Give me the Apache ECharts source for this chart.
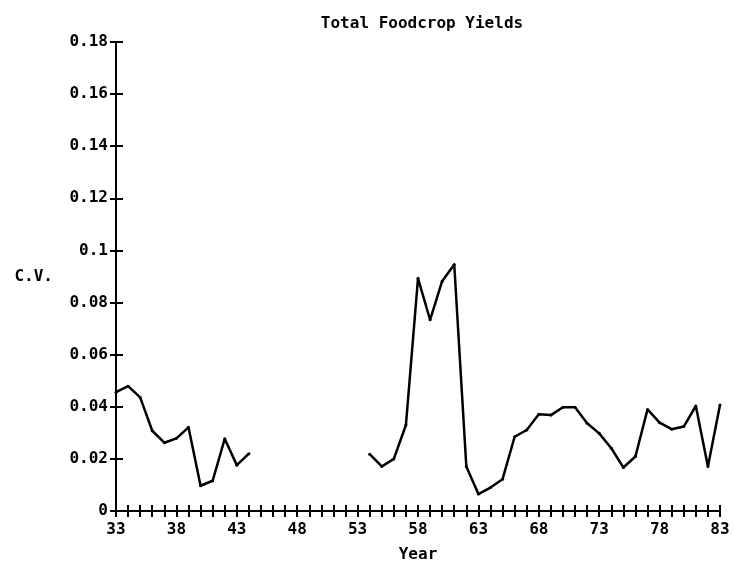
<!DOCTYPE html>
<html>
<head>
<meta charset="utf-8">
<script src="https://cdn.jsdelivr.net/npm/echarts@6/dist/echarts.min.js"></script>
<style>html,body{margin:0;padding:0;background:#fff}#c{width:734px;height:566px}</style>
</head>
<body>
<div id="c"></div>
<script>
var titleText = 'Total Foodcrop Yields';
var yName = 'C.V.';
var xName = 'Year';
var years = [];
for (var y = 33; y <= 83; y++) years.push(y);
var cv = [
  0.0456, 0.0479, 0.0436, 0.0308, 0.0262, 0.0279, 0.0321, 0.0097, 0.0116, 0.0277,
  0.0176, 0.0220, null, null, null, null, null, null, null, null,
  null, 0.0218, 0.0171, 0.0200, 0.0330, 0.0893, 0.0734, 0.0882, 0.0946, 0.0171,
  0.0065, 0.0090, 0.0122, 0.0285, 0.0311, 0.0371, 0.0368, 0.0398, 0.0398, 0.0337,
  0.0298, 0.0241, 0.0167, 0.0209, 0.0390, 0.0339, 0.0314, 0.0324, 0.0403, 0.0171,
  0.0407
];
var xMin = 33, xMax = 83, xStep = 1, xLabelEvery = 5;
var yMin = 0, yMax = 0.18, yStep = 0.02;

var font = '"DejaVu Sans Mono", monospace';
var fs = 16;
var data = years.map(function (yr, i) { return [yr, cv[i]]; });

var chart = echarts.init(document.getElementById('c'), null, {renderer: 'canvas'});
var common = {
  axisLine: {show: true, lineStyle: {color: '#000', width: 2}},
  splitLine: {show: false}
};
chart.setOption({
  animation: false,
  backgroundColor: '#fff',
  title: {
    text: titleText, left: 417, top: 11, textAlign: 'center',
    textStyle: {fontFamily: font, fontWeight: 'bold', fontSize: fs, color: '#000'}
  },
  grid: {left: 116, right: 14, top: 42, bottom: 55, containLabel: false, outerBoundsMode: 'none'},
  xAxis: [
    Object.assign({
      type: 'value', min: xMin, max: xMax, interval: xStep, position: 'bottom', offset: 0,
      name: xName, nameLocation: 'middle', nameGap: 36,
      nameTextStyle: {fontFamily: font, fontWeight: 'bold', fontSize: fs, color: '#000'},
      axisTick: {show: true, inside: false, length: 6, lineStyle: {color: '#000', width: 2}},
      axisLabel: {
        fontFamily: font, fontWeight: 'bold', fontSize: fs, color: '#000', margin: 11,
        formatter: function (v) { return ((v - xMin) % xLabelEvery === 0) ? String(v) : ''; }
      }
    }, common),
    Object.assign({
      type: 'value', min: xMin, max: xMax, interval: xStep, position: 'bottom', offset: 0,
      axisTick: {show: true, inside: true, length: 6, lineStyle: {color: '#000', width: 2}},
      axisLabel: {show: false}
    }, common)
  ],
  yAxis: [
    Object.assign({
      type: 'value', min: yMin, max: yMax, interval: yStep, position: 'left', offset: 0,
      name: yName, nameLocation: 'middle', nameGap: 63, nameRotate: 0,
      nameTextStyle: {fontFamily: font, fontWeight: 'bold', fontSize: fs, color: '#000'},
      axisTick: {show: true, inside: false, length: 6, lineStyle: {color: '#000', width: 2}},
      axisLabel: {fontFamily: font, fontWeight: 'bold', fontSize: fs, color: '#000', margin: 8}
    }, common),
    Object.assign({
      type: 'value', min: yMin, max: yMax, interval: yStep, position: 'left', offset: 0,
      axisTick: {show: true, inside: true, length: 7, lineStyle: {color: '#000', width: 2}},
      axisLabel: {show: false}
    }, common)
  ],
  series: [{
    type: 'line',
    xAxisIndex: 0, yAxisIndex: 0,
    data: data,
    connectNulls: false,
    symbol: 'circle', symbolSize: 3,
    itemStyle: {color: '#000'},
    lineStyle: {color: '#000', width: 2.5}
  }]
});
</script>
</body>
</html>
